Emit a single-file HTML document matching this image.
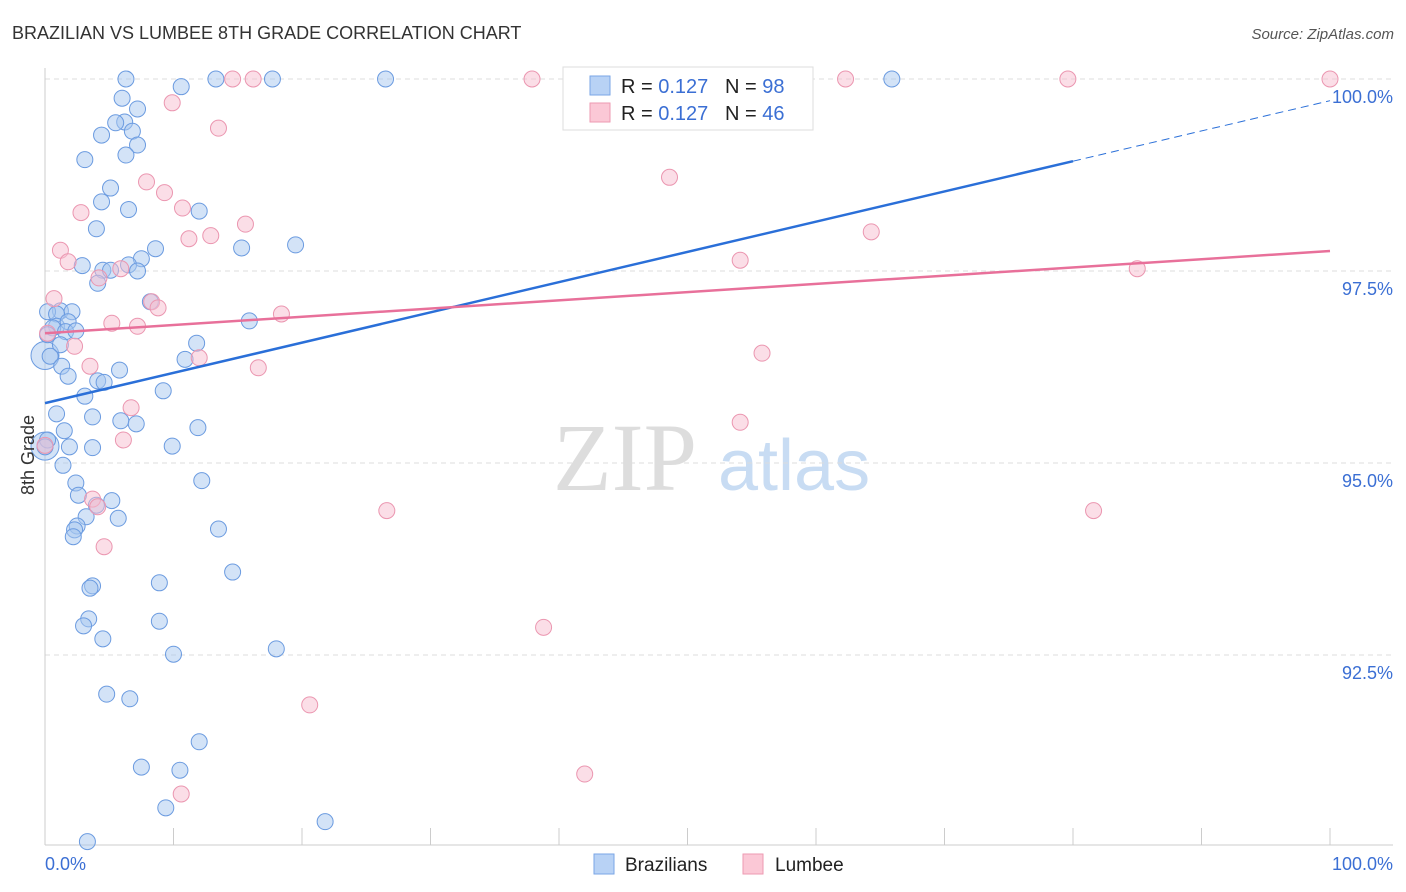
<!DOCTYPE html>
<html><head><meta charset="utf-8"><style>
body{margin:0;background:#fff;font-family:"Liberation Sans",sans-serif;}
svg{display:block}
</style></head><body>
<svg id="chart" width="1406" height="892">
<text x="12" y="39" font-size="18" fill="#333">BRAZILIAN VS LUMBEE 8TH GRADE CORRELATION CHART</text>
<text x="1394" y="39" font-size="15" fill="#555" font-style="italic" text-anchor="end">Source: ZipAtlas.com</text>
<g><text x="553" y="490" font-size="96" fill="#ddd" font-family="Liberation Serif,serif">ZIP</text><text x="718" y="490" font-size="72" fill="#c8dcf3">atlas</text></g>
<g id="grid"></g><g id="axes"></g><g id="pts"></g><g id="trends"></g>
<text transform="translate(34,455) rotate(-90)" font-size="18" fill="#333" text-anchor="middle">8th Grade</text>
<g>
<rect x="563" y="67" width="250" height="63" fill="#fff" stroke="#ddd"/>
<rect x="590" y="76" width="20" height="19" fill="#b8d2f5" stroke="#7aa6e6"/>
<rect x="590" y="103" width="20" height="19" fill="#fbc8d6" stroke="#ee9ab2"/>
<text x="621" y="93" font-size="20" fill="#222" xml:space="preserve">R = <tspan fill="#3b6fd4">0.127</tspan>   N = <tspan fill="#3b6fd4">98</tspan></text>
<text x="621" y="120" font-size="20" fill="#222" xml:space="preserve">R = <tspan fill="#3b6fd4">0.127</tspan>   N = <tspan fill="#3b6fd4">46</tspan></text>
</g>
<g>
<rect x="594" y="854" width="20" height="20" fill="#b8d2f5" stroke="#7aa6e6"/><text x="625" y="871" font-size="19" fill="#222">Brazilians</text>
<rect x="743" y="854" width="20" height="20" fill="#fbc8d6" stroke="#ee9ab2"/><text x="775" y="871" font-size="19" fill="#222">Lumbee</text>
</g>
</svg>
<script>
const blueX=[6.3,13.3,17.7,26.5,65.9,10.6,6.0,7.2,6.2,5.5,6.8,4.4,7.2,6.3,3.1,5.1,4.4,6.5,12.0,4.0,8.6,15.3,19.5,7.5,6.5,2.9,4.5,5.1,7.2,4.1,8.2,1.2,0.2,2.1,0.9,15.9,0.9,1.8,0.6,1.6,2.4,0.2,11.8,1.2,10.9,0.4,1.3,5.8,1.8,4.1,4.6,9.2,3.1,0.9,3.7,5.9,7.1,11.9,1.5,0.2,0,1.9,3.7,9.9,1.4,12.2,2.4,2.6,5.2,4.0,3.2,5.7,2.5,2.3,13.5,2.2,14.6,8.9,3.7,3.5,3.4,8.9,3.0,4.5,18.0,10.0,4.8,6.6,12.0,7.5,10.5,9.4,21.8,3.3];
const blueY=[100,100,100,100,100,99.9,99.75,99.61,99.44,99.43,99.32,99.27,99.14,99.01,98.95,98.58,98.40,98.30,98.28,98.05,97.79,97.80,97.84,97.66,97.58,97.57,97.51,97.51,97.50,97.34,97.10,96.98,96.97,96.97,96.94,96.85,96.78,96.84,96.76,96.71,96.72,96.67,96.56,96.54,96.35,96.39,96.26,96.21,96.13,96.07,96.05,95.94,95.87,95.64,95.60,95.55,95.51,95.46,95.42,95.30,95.21,95.21,95.20,95.22,94.97,94.77,94.74,94.58,94.51,94.45,94.30,94.28,94.18,94.13,94.14,94.04,93.58,93.44,93.40,93.37,92.97,92.94,92.88,92.71,92.58,92.51,91.99,91.93,91.37,91.04,91.00,90.51,90.33,90.07];
const pinkX=[14.6,16.2,37.9,62.3,79.6,100,9.9,13.5,7.9,9.3,48.6,10.7,2.8,15.6,12.9,11.2,64.3,1.2,1.8,54.1,85.0,5.9,4.2,0.7,8.3,8.8,18.4,5.2,7.2,0.2,2.3,12.0,55.8,3.5,16.6,6.7,54.1,6.1,0,3.7,4.1,26.6,81.6,4.6,38.8,20.6,42.0,10.6];
const pinkY=[100,100,100,100,100,100,99.69,99.36,98.66,98.52,98.72,98.32,98.26,98.11,97.96,97.92,98.01,97.77,97.62,97.64,97.53,97.53,97.41,97.14,97.10,97.02,96.94,96.82,96.78,96.69,96.52,96.37,96.43,96.26,96.24,95.72,95.53,95.30,95.23,94.53,94.43,94.38,94.38,93.91,92.86,91.85,90.95,90.69];
const bigBlueX=[0,0];
const bigBlueY=[96.4,95.22];
const blueTrend=[95.78,98.93]; // y at x=0, x=80
const pinkTrend=[96.69,97.76]; // y at x=0, x=100
const yTicks=[100,97.5,95,92.5];
const yTickLabels=["100.0%","97.5%","95.0%","92.5%"];
const xLabels=["0.0%","100.0%"];
const NS="http://www.w3.org/2000/svg";
const sx=v=>45+v*12.85, sy=v=>79+(100-v)*76.8;
function mk(tag,attrs,parent){const e=document.createElementNS(NS,tag);for(const k in attrs)e.setAttribute(k,attrs[k]);document.getElementById(parent).appendChild(e);return e;}
yTicks.forEach((t,i)=>{
 const l=mk('line',{x1:45,x2:1393,y1:sy(t),y2:sy(t),stroke:'#ddd','stroke-dasharray':'5,4'},'grid');
 
 
 const tx=mk('text',{x:1393,y:sy(t)+24,'font-size':18,fill:'#3b6fd4','text-anchor':'end'},'grid');
 tx.textContent=yTickLabels[i];
 
 
});
let a=mk('line',{x1:45,x2:45,y1:68,y2:845,stroke:'#ccc'},'axes');


a=mk('line',{x1:45,x2:1393,y1:845,y2:845,stroke:'#ccc'},'axes');


for(let i=0;i<=10;i++){const t=mk('line',{x1:sx(i*10),x2:sx(i*10),y1:828,y2:845,stroke:'#ccc'},'axes');
 
 }
[[0,'start',45],[1,'end',1393]].forEach(([i,an,x])=>{const t=mk('text',{x:x,y:870,'font-size':18,fill:'#3b6fd4','text-anchor':an},'axes');t.textContent=xLabels[i];
 
 });
bigBlueX.forEach((x,i)=>{const c=mk('circle',{cx:sx(x),cy:sy(bigBlueY[i]),r:14,fill:'rgba(168,200,240,0.5)',stroke:'#6b9be0','stroke-width':1},'pts');
 
 });
blueX.forEach((x,i)=>{const c=mk('circle',{cx:sx(x),cy:sy(blueY[i]),r:8,fill:'rgba(168,200,240,0.5)',stroke:'#6b9be0','stroke-width':1},'pts');
 
 });
pinkX.forEach((x,i)=>{const c=mk('circle',{cx:sx(x),cy:sy(pinkY[i]),r:8,fill:'rgba(248,190,208,0.5)',stroke:'#eb96b0','stroke-width':1},'pts');
 
 });
const bs=(blueTrend[1]-blueTrend[0])/80;
let l=mk('line',{x1:sx(0),y1:sy(blueTrend[0]),x2:sx(80),y2:sy(blueTrend[1]),stroke:'#2a6fd8','stroke-width':2.5},'trends');


l=mk('line',{x1:sx(80),y1:sy(blueTrend[1]),x2:sx(100),y2:sy(blueTrend[0]+bs*100),stroke:'#2a6fd8','stroke-width':1,'stroke-dasharray':'8,5'},'trends');


l=mk('line',{x1:sx(0),y1:sy(pinkTrend[0]),x2:sx(100),y2:sy(pinkTrend[1]),stroke:'#e8709a','stroke-width':2.5},'trends');


</script>
</body></html>
